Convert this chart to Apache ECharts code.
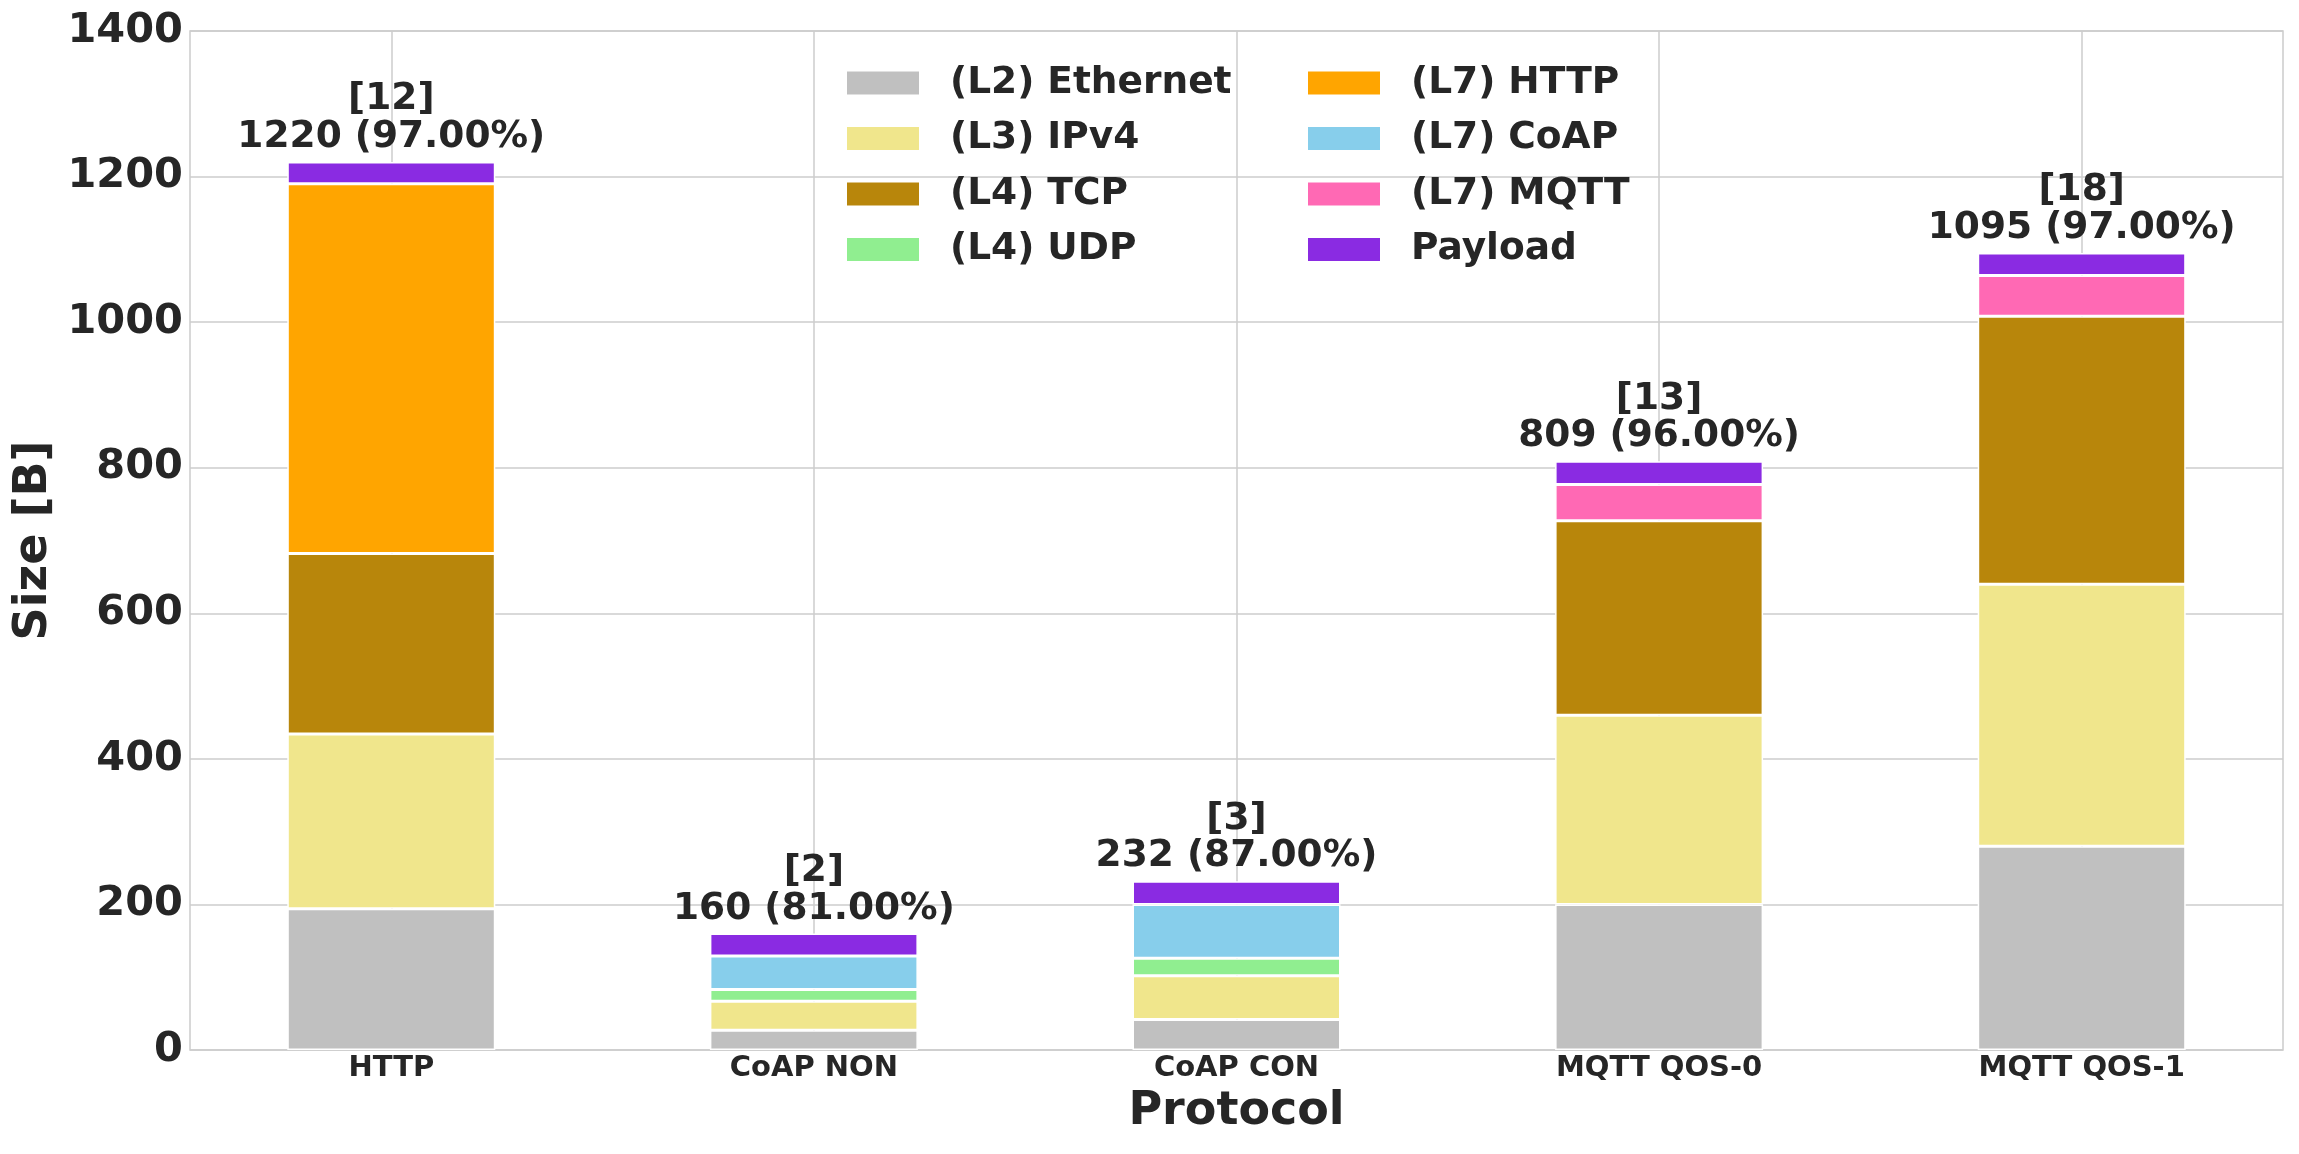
<!DOCTYPE html>
<html>
<head>
<meta charset="utf-8">
<script src="https://cdn.jsdelivr.net/npm/echarts@6/dist/echarts.min.js"></script>
<style>
html,body{margin:0;padding:0;background:#fff;}
#main{width:2299px;height:1154px;}
</style>
</head>
<body>
<div id="main"></div>
<script>
// ---- data ----
const categories = ['HTTP', 'CoAP NON', 'CoAP CON', 'MQTT QOS-0', 'MQTT QOS-1'];
const ethernet = [194, 27, 42, 200, 280];
const ipv4     = [240, 40, 60, 260, 360];
const tcp      = [248, 0, 0, 267, 368];
const udp      = [0, 16, 24, 0, 0];
const http     = [508, 0, 0, 0, 0];
const coap     = [0, 46, 74, 0, 0];
const mqtt     = [0, 0, 0, 50, 56];
const payload  = [30, 31, 32, 32, 31];
const packetCounts = [12, 2, 3, 13, 18];
const totals = [1220, 160, 232, 809, 1095];
const overheadPct = [97, 81, 87, 96, 97];
const yTicks = [0, 200, 400, 600, 800, 1000, 1200, 1400];

const layerNames = ['(L2) Ethernet', '(L3) IPv4', '(L4) TCP', '(L4) UDP', '(L7) HTTP', '(L7) CoAP', '(L7) MQTT', 'Payload'];
const layerData = [ethernet, ipv4, tcp, udp, http, coap, mqtt, payload];
const layerColors = ['#c0c0c0', '#f0e68c', '#b8860b', '#90ee90', '#ffa500', '#87ceeb', '#ff69b4', '#8a2be2'];

const FONT = 'DejaVu Sans';
const TXT = '#262626';
const GRIDC = '#cccccc';

const series = layerNames.map((name, si) => {
  const s = {
    name: name,
    type: 'bar',
    stack: 'total',
    xAxisIndex: 1,
    yAxisIndex: 1,
    barWidth: 208,
    itemStyle: { color: layerColors[si], borderColor: '#ffffff', borderWidth: 1.5 },
    emphasis: { disabled: true },
    data: layerData[si].map(v => (v === 0 ? '-' : v))
  };
  if (si === 0) {
    s.markLine = {
      silent: true,
      symbol: 'none',
      z: 1,
      label: { show: false },
      lineStyle: { color: GRIDC, width: 1.5, type: 'solid' },
      emphasis: { disabled: true },
      data: categories.map(c => ({ xAxis: c }))
    };
  }
  if (name === 'Payload') {
    s.label = {
      show: true,
      position: 'top',
      distance: 6,
      fontFamily: FONT,
      fontWeight: 'bold',
      fontSize: 37.5,
      lineHeight: 37.5,
      color: TXT,
      align: 'center',
      formatter: p => '[' + packetCounts[p.dataIndex] + ']\n' + totals[p.dataIndex] + ' (' + overheadPct[p.dataIndex].toFixed(2) + '%)'
    };
  }
  return s;
});

const legendCommon = {
  orient: 'vertical',
  icon: 'rect',
  itemWidth: 74,
  itemHeight: 25,
  itemGap: 17.5,
  padding: 0,
  selectedMode: false,
  textStyle: { fontFamily: FONT, fontWeight: 'bold', fontSize: 37.5, lineHeight: 37.5, color: TXT, padding: [0, 0, 0, 25] }
};

const option = {
  backgroundColor: '#ffffff',
  animation: false,
  grid: [
    { left: 190, right: 16, top: 31, bottom: 104, show: true, borderColor: GRIDC, borderWidth: 1.5, backgroundColor: 'transparent' },
    { left: 180, right: 6, top: 31, bottom: 104, show: false }
  ],
  legend: [
    Object.assign({}, legendCommon, { left: 845, top: 64, data: layerNames.slice(0, 4) }),
    Object.assign({}, legendCommon, { left: 1306, top: 64, data: layerNames.slice(4) })
  ],
  xAxis: [
    {
      gridIndex: 0,
      type: 'category',
      data: categories,
      axisLine: { show: false },
      axisTick: { show: false },
      axisLabel: { show: false },
      splitLine: { show: false }
    },
    {
      gridIndex: 1,
      type: 'category',
      data: categories,
      name: 'Protocol',
      nameLocation: 'middle',
      nameGap: 39,
      nameTextStyle: { fontFamily: FONT, fontWeight: 'bold', fontSize: 46, color: TXT },
      axisLine: { show: false },
      axisTick: { show: false },
      axisLabel: { fontFamily: FONT, fontWeight: 'bold', fontSize: 29, color: TXT, margin: 4 },
      splitLine: { show: false }
    }
  ],
  yAxis: [
    {
      gridIndex: 0,
      type: 'value',
      min: yTicks[0],
      max: yTicks[yTicks.length - 1],
      interval: yTicks[1] - yTicks[0],
      name: 'Size [B]',
      nameLocation: 'middle',
      nameGap: 126,
      nameTextStyle: { fontFamily: FONT, fontWeight: 'bold', fontSize: 46, color: TXT },
      axisLine: { show: false },
      axisTick: { show: false },
      axisLabel: { fontFamily: FONT, fontWeight: 'bold', fontSize: 41.5, color: TXT, margin: 7, formatter: v => String(v) },
      splitLine: { show: true, lineStyle: { color: GRIDC, width: 1.5 } }
    },
    {
      gridIndex: 1,
      type: 'value',
      min: yTicks[0],
      max: yTicks[yTicks.length - 1],
      interval: yTicks[1] - yTicks[0],
      show: false,
      splitLine: { show: false }
    }
  ],
  series: series
};

const chart = echarts.init(document.getElementById('main'), null, { renderer: 'canvas' });
chart.setOption(option);
</script>
</body>
</html>
